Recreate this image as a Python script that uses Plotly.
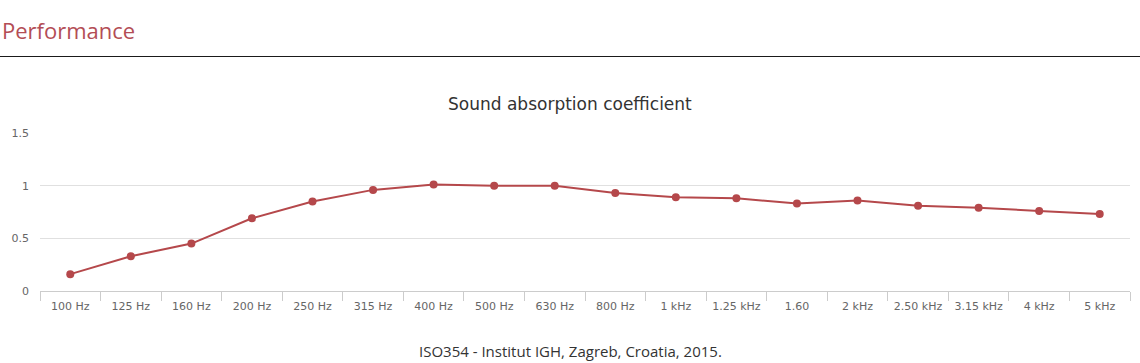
import plotly.graph_objects as go

categories = ["100 Hz", "125 Hz", "160 Hz", "200 Hz", "250 Hz", "315 Hz", "400 Hz", "500 Hz",
              "630 Hz", "800 Hz", "1 kHz", "1.25 kHz", "1.60", "2 kHz", "2.50 kHz", "3.15 kHz",
              "4 kHz", "5 kHz"]
absorption = [0.16, 0.33, 0.45, 0.69, 0.85, 0.96, 1.01, 1.00, 1.00, 0.93, 0.89, 0.88, 0.83,
              0.86, 0.81, 0.79, 0.76, 0.73]
y_ticks = [0, 0.5, 1, 1.5]
y_tick_labels = ["0", "0.5", "1", "1.5"]

W, H = 1140, 363
L, R, T, B = 40, 10, 133, 72
pw, ph = W - L - R, H - T - B

def px(x):
    return (x - L) / pw

def py(y):
    return (H - B - y) / ph

fig = go.Figure()
fig.add_trace(go.Scatter(
    x=categories, y=absorption, mode="lines+markers",
    line=dict(color="#b5484b", width=2),
    marker=dict(color="#b5484b", size=8),
    showlegend=False, hoverinfo="x+y",
))

fig.update_layout(
    width=W, height=H,
    margin=dict(l=L, r=R, t=T, b=B, autoexpand=False),
    paper_bgcolor="white", plot_bgcolor="white",
    font=dict(family="DejaVu Sans, sans-serif", color="#666666", size=11),
    xaxis=dict(
        type="category", showgrid=False, showline=True, linecolor="#cccccc", linewidth=1,
        ticks="outside", tickson="boundaries", ticklen=9, tickcolor="#cccccc",
        tickangle=0, automargin=False, range=[-0.5, len(categories) - 0.5],
        ticklabelstandoff=5,
        tickfont=dict(size=11, color="#666666"), zeroline=False, fixedrange=True,
    ),
    yaxis=dict(
        range=[0, 1.5], tickvals=y_ticks, ticktext=y_tick_labels, showgrid=True,
        gridcolor="#e0e0e0", gridwidth=1, zeroline=False, showline=False, automargin=False,
        tickfont=dict(size=11, color="#666666"), ticklabelstandoff=10, fixedrange=True,
    ),
    shapes=[dict(type="line", xref="paper", yref="paper",
                 x0=px(0), x1=px(W), y0=py(56.5), y1=py(56.5),
                 line=dict(color="#1a1a1a", width=1))],
    annotations=[
        dict(text="Performance", xref="paper", yref="paper", x=px(0), y=py(30),
             xanchor="left", yanchor="middle", showarrow=False,
             font=dict(family="Open Sans, sans-serif", size=22, color="#b34d55")),
        dict(text="Sound absorption coefficient", xref="paper", yref="paper", x=px(570), y=py(104),
             xanchor="center", yanchor="middle", showarrow=False,
             font=dict(family="DejaVu Sans, sans-serif", size=17, color="#333333")),
        dict(text="ISO354 - Institut IGH, Zagreb, Croatia, 2015.", xref="paper", yref="paper",
             x=px(570), y=py(351), xanchor="center", yanchor="middle", showarrow=False,
             font=dict(family="Open Sans, sans-serif", size=15, color="#333333")),
    ],
)

fig.write_html("out.html")
